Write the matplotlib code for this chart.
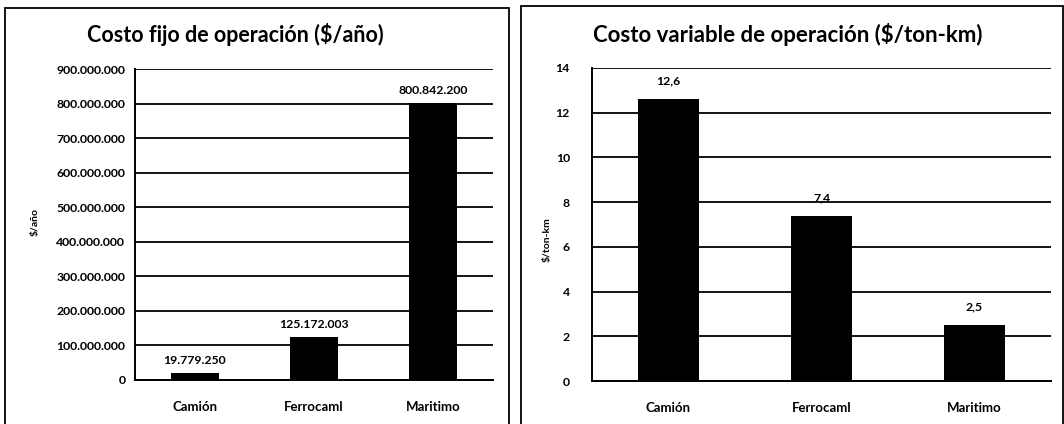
import matplotlib
matplotlib.use("Agg")
import matplotlib.pyplot as plt
from matplotlib.patches import Rectangle
from matplotlib.ticker import FuncFormatter

categories = ["Camión", "Ferrocarril", "Marítimo"]
cat_labels = ["Camión", "Ferrocaml", "Maritimo"]
fixed_cost = [19779250, 125172003, 800842200]
var_cost = [12.6, 7.4, 2.5]

plt.rcParams['font.family'] = ['Lato', 'DejaVu Sans']

fig = plt.figure(figsize=(10.64, 4.24), dpi=100)
W, H = 1064, 424

def fx(px):
    return px / W

def fy(py):
    return 1 - py / H

# panel frames
fig.patches.append(Rectangle((fx(5), fy(430)), fx(509) - fx(5), fy(8) - fy(430),
                             transform=fig.transFigure, fill=False, ec='black', lw=1.3))
fig.patches.append(Rectangle((fx(521), fy(430)), fx(1063) - fx(521), fy(6) - fy(430),
                             transform=fig.transFigure, fill=False, ec='black', lw=1.3))

def thousands(v, pos=None):
    return f"{int(round(v)):,}".replace(",", ".")

def style(ax):
    for s in ['top', 'right']:
        ax.spines[s].set_visible(False)
    for s in ['left', 'bottom']:
        ax.spines[s].set_color('black')
        ax.spines[s].set_linewidth(1.4)
    ax.yaxis.grid(True, color='black', lw=1.3)
    ax.set_axisbelow(True)
    ax.tick_params(axis='y', length=0, labelsize=8.8, pad=7)
    ax.tick_params(axis='x', length=0, labelsize=9.5, pad=15)
    for t in ax.get_yticklabels() + ax.get_xticklabels():
        t.set_fontweight('bold')

# left chart
ax1 = fig.add_axes([fx(135), fy(380), fx(493) - fx(135), fy(69) - fy(380)])
x = range(len(categories))
ax1.bar(x, fixed_cost, width=0.4, color='black')
ax1.set_ylim(0, 900000000)
ax1.set_yticks(range(0, 900000001, 100000000))
ax1.yaxis.set_major_formatter(FuncFormatter(thousands))
ax1.set_xlim(-0.5, 2.5)
ax1.set_xticks(list(x))
ax1.set_xticklabels(cat_labels)
style(ax1)
for i, v in enumerate(fixed_cost):
    ax1.annotate(thousands(v), (i, v), xytext=(0, 5), textcoords='offset points',
                 ha='center', va='bottom', fontsize=8.8, fontweight='bold')
fig.text(fx(235), fy(34), "Costo fijo de operación ($/año)", ha='center', va='center',
         fontsize=15.5, fontweight='bold')
fig.text(fx(35), fy(222), "$/año", rotation=90, ha='center', va='center',
         fontsize=7.5, fontweight='bold')

# right chart
ax2 = fig.add_axes([fx(592), fy(381), fx(1051) - fx(592), fy(68) - fy(381)])
ax2.bar(x, var_cost, width=0.4, color='black')
ax2.set_ylim(0, 14)
ax2.set_yticks(range(0, 15, 2))
ax2.set_xlim(-0.5, 2.5)
ax2.set_xticks(list(x))
ax2.set_xticklabels(cat_labels)
style(ax2)
ax2.tick_params(axis='y', pad=16)
for i, v in enumerate(var_cost):
    ax2.annotate(f"{v:.1f}".replace(".", ","), (i, v), xytext=(0, 9), textcoords='offset points',
                 ha='center', va='bottom', fontsize=8.8, fontweight='bold')
fig.text(fx(788), fy(34), "Costo variable de operación ($/ton-km)", ha='center', va='center',
         fontsize=16, fontweight='bold')
fig.text(fx(547), fy(240), "$/ton-km", rotation=90, ha='center', va='center',
         fontsize=7.5, fontweight='bold')

fig.savefig("out.png", dpi=100)
